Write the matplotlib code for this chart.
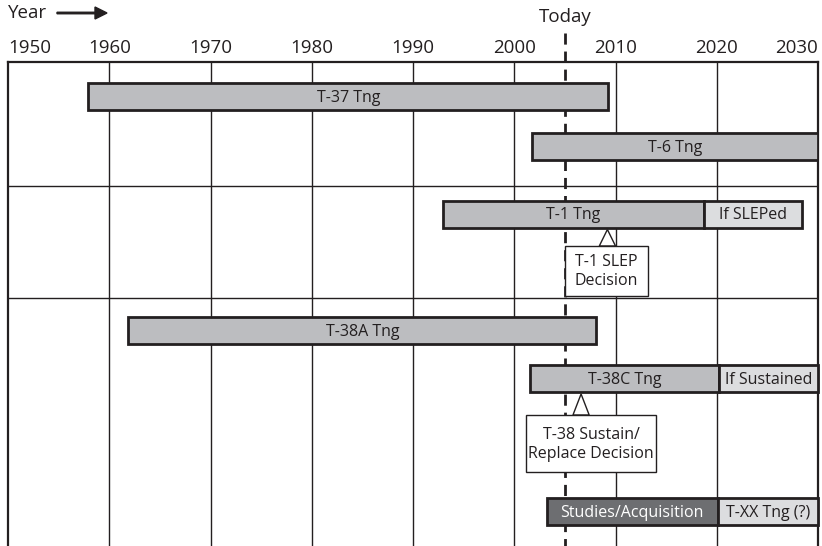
import matplotlib
matplotlib.use("Agg")
import matplotlib.pyplot as plt
from matplotlib.patches import Rectangle, Polygon, FancyArrow

plt.rcParams['font.family'] = ['Open Sans', 'DejaVu Sans']

# data
year_ticks = [1950, 1960, 1970, 1980, 1990, 2000, 2010, 2020, 2030]
today = 2005.0

programs = ["T-37 Tng", "T-6 Tng", "T-1 Tng", "T-38A Tng", "T-38C Tng", "Studies/Acquisition"]
starts = [1957.9, 2001.8, 1993.0, 1961.9, 2001.6, 2003.2]
ends = [2009.3, 2030.0, 2018.7, 2008.1, 2020.2, 2020.1]
ext_labels = [None, None, "If SLEPed", None, "If Sustained", "T-XX Tng (?)"]
ext_ends = [None, None, 2028.4, None, 2030.0, 2030.0]

decisions = ["T-1 SLEP\nDecision", "T-38 Sustain/\nReplace Decision"]
decision_years = [2009.2, 2006.6]

# layout (pixel rows, y grows downward)
lane_y = [97, 147, 214.5, 331, 379, 512]
bar_h = 27
row_lines = [186, 298]
decision_lane = [2, 4]
decision_box = [(2005.0, 2013.2, 246, 296), (2001.2, 2014.0, 415, 472)]

MID = '#bcbdc0'
LIGHT = '#dcdddf'
DARK = '#6d6e71'
INK = '#231f20'
bar_colors = [MID, MID, MID, MID, MID, DARK]
text_colors = [INK] * 5 + ['white']

W, H = 822, 546
fig = plt.figure(figsize=(W / 100, H / 100), dpi=100)
top = 62
ax = fig.add_axes([8 / W, 0, 810 / W, (H - top) / H])
ax.set_xlim(1950, 2030)
ax.set_ylim(H, top)
ax.set_xticks([])
ax.set_yticks([])
for s in ['left', 'right', 'top']:
    ax.spines[s].set_linewidth(1.6)
    ax.spines[s].set_color(INK)
ax.spines['bottom'].set_visible(False)

# grid
for yr in year_ticks[1:-1]:
    ax.axvline(yr, color=INK, lw=1.0, zorder=1)
for y in row_lines:
    ax.axhline(y, color=INK, lw=1.0, zorder=1)

# year labels
for yr in year_ticks:
    ha = 'left' if yr == year_ticks[0] else ('right' if yr == year_ticks[-1] else 'center')
    ax.text(yr, 48, str(yr), ha=ha, va='center', fontsize=13.5, color=INK, clip_on=False)

# today line
ax.plot([today, today], [33, H], color=INK, lw=2, ls=(0, (4, 2.5)), zorder=2, clip_on=False)
ax.text(today, 17, "Today", ha='center', va='center', fontsize=13.5, color=INK, clip_on=False)

# bars
for i, name in enumerate(programs):
    y = lane_y[i]
    ax.add_patch(Rectangle((starts[i], y - bar_h / 2), ends[i] - starts[i], bar_h,
                           facecolor=bar_colors[i], edgecolor=INK, lw=2, zorder=3))
    ax.text((starts[i] + ends[i]) / 2, y + 1, name, ha='center', va='center',
            fontsize=11.5, color=text_colors[i], zorder=5)
    if ext_labels[i]:
        ax.add_patch(Rectangle((ends[i], y - bar_h / 2), ext_ends[i] - ends[i], bar_h,
                               facecolor=LIGHT, edgecolor=INK, lw=2, zorder=3, clip_on=False))
        ax.text((ends[i] + ext_ends[i]) / 2, y + 1, ext_labels[i], ha='center', va='center',
                fontsize=11.5, color=INK, zorder=5)

# decision markers
for label, yr, lane, box in zip(decisions, decision_years, decision_lane, decision_box):
    x0, x1, y0, y1 = box
    bar_bottom = lane_y[lane] + bar_h / 2 + 1.5
    tri = Polygon([(yr, bar_bottom), (yr - 0.8, y0), (yr + 0.8, y0)], closed=True,
                  facecolor='white', edgecolor=INK, lw=1.0, zorder=4)
    ax.add_patch(tri)
    ax.add_patch(Rectangle((x0, y0), x1 - x0, y1 - y0, facecolor='white',
                           edgecolor=INK, lw=1.0, zorder=4))
    ax.text((x0 + x1) / 2, (y0 + y1) / 2 + 1, label, ha='center', va='center',
            fontsize=11.5, color=INK, linespacing=1.25, zorder=5)

# "Year ->" header
fig.text(8 / W, 1 - 13 / H, "Year", ha='left', va='center', fontsize=13.5, color=INK)
fig.patches.append(FancyArrow(57 / W, 1 - 13 / H, 50 / W, 0,
                              width=1.5 / H, head_width=12 / H,
                              head_length=12 / W, length_includes_head=True,
                              color=INK, transform=fig.transFigure))

fig.savefig("out.png", dpi=100)
